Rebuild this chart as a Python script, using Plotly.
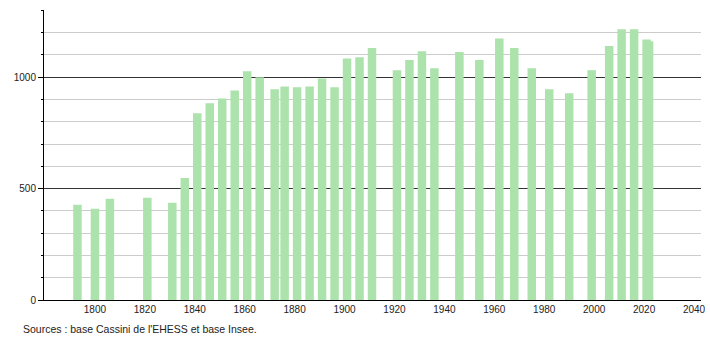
import plotly.graph_objects as go

years = [1793, 1800, 1806, 1821, 1831, 1836, 1841, 1846, 1851, 1856,
         1861, 1866, 1872, 1876, 1881, 1886, 1891, 1896, 1901, 1906,
         1911, 1921, 1926, 1931, 1936, 1946, 1954, 1962, 1968, 1975,
         1982, 1990, 1999, 2006, 2011, 2016, 2021, 2022]
population = [428, 410, 455, 459, 437, 548, 838, 883, 905, 941,
              1027, 1000, 946, 959, 955, 959, 995, 955, 1084, 1090,
              1131, 1032, 1077, 1117, 1041, 1113, 1077, 1174, 1131, 1041,
              946, 928, 1032, 1140, 1216, 1216, 1170, 1162]
x_ticks = list(range(1800, 2041, 20))
source_text = "Sources : base Cassini de l'EHESS et base Insee."

fig = go.Figure()
fig.add_trace(go.Bar(
    x=years, y=population, width=3.4,
    marker=dict(color="rgb(172,226,172)", line=dict(width=0)),
    hoverinfo="x+y",
))

fig.update_layout(
    width=710, height=340,
    margin=dict(l=44, r=9, t=10, b=40, autoexpand=False),
    paper_bgcolor="white", plot_bgcolor="white",
    showlegend=False,
    barmode="overlay",
    font=dict(family="Liberation Sans, Arial, sans-serif", size=10, color="#222"),
    xaxis=dict(
        range=[1779.6, 2042.8],
        tickmode="array", tickvals=x_ticks,
        showgrid=False, zeroline=False,
        showline=True, linecolor="#000", linewidth=1,
        ticks="", ticklen=0,
        tickfont=dict(size=10, color="#222"),
        automargin=False,
        fixedrange=True,
    ),
    yaxis=dict(
        range=[0, 1302],
        tickmode="linear", tick0=0, dtick=500,
        showgrid=True, gridcolor="#333", gridwidth=1,
        zeroline=False,
        showline=True, linecolor="#000", linewidth=1,
        ticks="outside", ticklen=5, tickcolor="#000",
        tickfont=dict(size=10, color="#222"),
        minor=dict(dtick=100, showgrid=True, gridcolor="#cccccc", gridwidth=1,
                   ticks="outside", ticklen=2, tickcolor="#000"),
        automargin=False,
        fixedrange=True,
    ),
    annotations=[dict(
        text=source_text, xref="paper", yref="paper",
        x=-23/657, y=-29/290, xanchor="left", yanchor="middle",
        showarrow=False, font=dict(size=10.5, color="#222"),
    )],
)

fig.write_html("out.html")
